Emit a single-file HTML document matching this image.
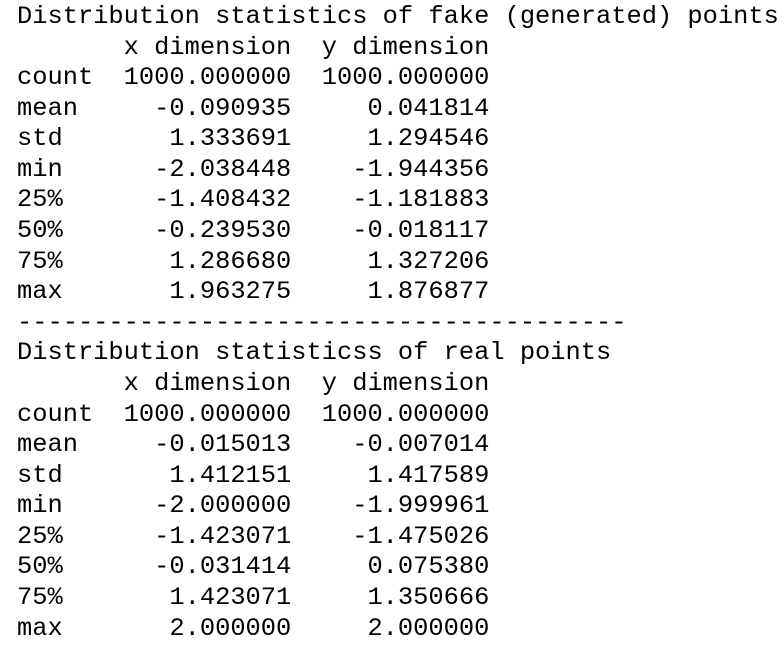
<!DOCTYPE html>
<html><head><meta charset="utf-8"><style>
html,body{margin:0;padding:0;background:#fff;width:784px;height:650px;overflow:hidden}
pre{position:absolute;left:17px;top:2px;margin:0;font-family:"Liberation Mono","DejaVu Sans Mono",monospace;font-size:25.4px;line-height:30.58px;color:#000}
</style></head><body>
<pre>Distribution statistics of fake (generated) points
       x dimension  y dimension
count  1000.000000  1000.000000
mean     -0.090935     0.041814
std       1.333691     1.294546
min      -2.038448    -1.944356
25%      -1.408432    -1.181883
50%      -0.239530    -0.018117
75%       1.286680     1.327206
max       1.963275     1.876877
----------------------------------------
Distribution statisticss of real points
       x dimension  y dimension
count  1000.000000  1000.000000
mean     -0.015013    -0.007014
std       1.412151     1.417589
min      -2.000000    -1.999961
25%      -1.423071    -1.475026
50%      -0.031414     0.075380
75%       1.423071     1.350666
max       2.000000     2.000000</pre>
</body></html>
